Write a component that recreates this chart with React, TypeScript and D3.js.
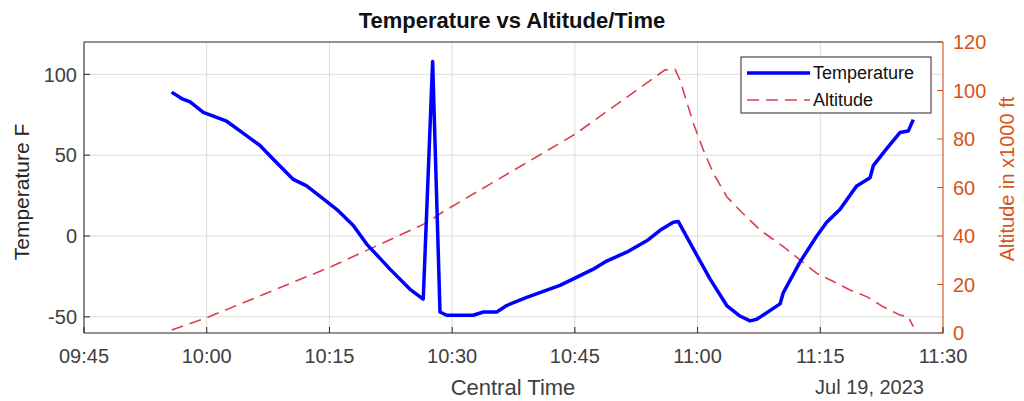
import { useEffect, useRef } from "react";
import * as d3 from "d3";

// temperature readings (time, deg F)
const tempTimes = [
  "09:55:43", "09:56:56", "09:57:58", "09:59:35", "10:02:26", "10:04:04", "10:06:31",
  "10:08:08", "10:10:35", "10:12:13", "10:14:15", "10:15:53", "10:17:55", "10:19:33",
  "10:21:35", "10:22:24", "10:24:51", "10:26:28", "10:27:37", "10:28:31", "10:29:20",
  "10:32:35", "10:33:49", "10:35:27", "10:36:40", "10:39:07", "10:43:11", "10:44:49",
  "10:47:15", "10:48:53", "10:51:20", "10:53:47", "10:55:25", "10:57:02", "10:57:38",
  "10:59:29", "11:01:31", "11:03:34", "11:05:11", "11:06:25", "11:07:14", "11:10:05",
  "11:10:29", "11:12:32", "11:14:34", "11:15:47", "11:17:25", "11:19:27", "11:21:05",
  "11:21:29", "11:23:07", "11:24:44", "11:25:46", "11:26:22",
];
const tempValues = [
  89, 85, 83, 76.5, 71, 65, 56,
  47.5, 35, 31, 23, 16.5, 6.5, -5,
  -16, -20.5, -33, -39, 108, -47, -49,
  -49, -47, -47, -43, -38, -30.5, -26.5,
  -20.5, -15.5, -10, -3, 3.5, 8.5, 9,
  -8, -26.5, -43, -49.5, -52.5, -51.5, -42,
  -35, -16, 0, 8.5, 16.5, 31, 36,
  43.5, 54, 64, 65, 72,
];

// altitude readings (time, x1000 ft)
const altTimes = [
  "09:55:43", "10:00:17", "10:15:11", "10:26:56", "10:28:53", "10:45:02", "10:56:01",
  "10:57:15", "10:57:51", "10:59:29", "11:00:42", "11:01:55", "11:03:34", "11:05:11",
  "11:07:38", "11:10:29", "11:12:32", "11:14:34", "11:16:36", "11:18:38", "11:20:40",
  "11:22:42", "11:24:44", "11:25:45", "11:26:22",
];
const altValues = [
  1.2, 6.7, 27.3, 45.5, 50, 82, 108.5,
  108.7, 104.3, 86.5, 75.5, 66, 56.2, 50.5,
  42.5, 35.6, 30.1, 24.6, 21.2, 17.7, 15,
  10.8, 7.4, 6.7, 2.6,
];

const tempTicks = [-50, 0, 50, 100];
const altTicks = [0, 20, 40, 60, 80, 100, 120];
const timeTicks = ["09:45", "10:00", "10:15", "10:30", "10:45", "11:00", "11:15", "11:30"];

const FONT = "'Liberation Sans', Arial, Helvetica, sans-serif";
const ORANGE = "#D95319";

export default function App() {
  const ref = useRef<SVGSVGElement>(null);

  useEffect(() => {
    const width = 1024;
    const height = 401;
    const left = 84, right = 943, top = 42, bottom = 333;
    const svg = d3.select(ref.current);
    svg.selectAll("*").remove();
    svg.attr("viewBox", [0, 0, width, height]);

    const parseT = d3.timeParse("%H:%M:%S");
    const parseM = d3.timeParse("%H:%M");
    const fmt = d3.timeFormat("%H:%M");

    const x = d3
      .scaleTime()
      .domain([parseM("09:45")!, parseM("11:30")!])
      .range([left, right]);
    const yT = d3.scaleLinear().domain([-60, 120]).range([bottom, top]);
    const yA = d3.scaleLinear().domain([0, 120]).range([bottom, top]);

    svg.append("rect").attr("width", width).attr("height", height).attr("fill", "white");

    // grid
    const grid = svg.append("g").attr("stroke", "#dcdcdc").attr("stroke-width", 1);
    grid
      .selectAll("line.v")
      .data(timeTicks.map((t) => parseM(t)!))
      .join("line")
      .attr("x1", (d) => x(d))
      .attr("x2", (d) => x(d))
      .attr("y1", top)
      .attr("y2", bottom);
    grid
      .selectAll("line.h")
      .data(tempTicks)
      .join("line")
      .attr("class", "h")
      .attr("x1", left)
      .attr("x2", right)
      .attr("y1", (d) => yT(d))
      .attr("y2", (d) => yT(d));

    const tempData = tempTimes.map((t, i) => ({ t: parseT(t)!, v: tempValues[i] }));
    const altData = altTimes.map((t, i) => ({ t: parseT(t)!, v: altValues[i] }));

    svg
      .append("path")
      .datum(altData)
      .attr("fill", "none")
      .attr("stroke", "#dd3f4a")
      .attr("stroke-width", 1.6)
      .attr("stroke-dasharray", "12,7")
      .attr(
        "d",
        d3
          .line<{ t: Date; v: number }>()
          .x((d) => x(d.t))
          .y((d) => yA(d.v))
      );

    svg
      .append("path")
      .datum(tempData)
      .attr("fill", "none")
      .attr("stroke", "#0000ff")
      .attr("stroke-width", 3.5)
      .attr("stroke-linejoin", "round")
      .attr(
        "d",
        d3
          .line<{ t: Date; v: number }>()
          .x((d) => x(d.t))
          .y((d) => yT(d.v))
      );

    // axes box
    const ax = svg.append("g").attr("stroke-width", 1).attr("fill", "none");
    ax.append("line").attr("x1", left).attr("x2", right).attr("y1", top).attr("y2", top).attr("stroke", "#262626");
    ax.append("line").attr("x1", left).attr("x2", right).attr("y1", bottom).attr("y2", bottom).attr("stroke", "#262626");
    ax.append("line").attr("x1", left).attr("x2", left).attr("y1", top).attr("y2", bottom).attr("stroke", "#262626");
    ax.append("line").attr("x1", right).attr("x2", right).attr("y1", top).attr("y2", bottom + 0.5).attr("stroke", ORANGE);

    const txt = svg.append("g").attr("font-family", FONT);

    // x ticks
    timeTicks.forEach((t) => {
      const px = x(parseM(t)!);
      ax.append("line").attr("x1", px).attr("x2", px).attr("y1", bottom).attr("y2", bottom - 6).attr("stroke", "#262626");
      txt
        .append("text")
        .attr("x", px)
        .attr("y", 363)
        .attr("text-anchor", "middle")
        .attr("font-size", 20)
        .attr("fill", "#404040")
        .text(fmt(parseM(t)!));
    });

    // left ticks
    tempTicks.forEach((v) => {
      ax.append("line").attr("x1", left).attr("x2", left + 6).attr("y1", yT(v)).attr("y2", yT(v)).attr("stroke", "#262626");
      txt
        .append("text")
        .attr("x", 77)
        .attr("y", yT(v))
        .attr("dy", "0.36em")
        .attr("text-anchor", "end")
        .attr("font-size", 20)
        .attr("fill", "#404040")
        .text(v);
    });

    // right ticks
    altTicks.forEach((v) => {
      ax.append("line").attr("x1", right).attr("x2", right - 6).attr("y1", yA(v)).attr("y2", yA(v)).attr("stroke", ORANGE);
      txt
        .append("text")
        .attr("x", 953)
        .attr("y", yA(v))
        .attr("dy", "0.36em")
        .attr("font-size", 20)
        .attr("fill", ORANGE)
        .text(v);
    });

    // titles and labels
    txt
      .append("text")
      .attr("x", 512)
      .attr("y", 28)
      .attr("text-anchor", "middle")
      .attr("font-size", 22)
      .attr("font-weight", "bold")
      .attr("fill", "#111")
      .text("Temperature vs Altitude/Time");
    txt
      .append("text")
      .attr("x", 513)
      .attr("y", 395)
      .attr("text-anchor", "middle")
      .attr("font-size", 22)
      .attr("fill", "#404040")
      .text("Central Time");
    txt
      .append("text")
      .attr("x", 924)
      .attr("y", 394)
      .attr("text-anchor", "end")
      .attr("font-size", 20)
      .attr("fill", "#404040")
      .text("Jul 19, 2023");
    txt
      .append("text")
      .attr("transform", "translate(29,192) rotate(-90)")
      .attr("text-anchor", "middle")
      .attr("font-size", 21)
      .attr("fill", "#262626")
      .text("Temperature F");
    txt
      .append("text")
      .attr("transform", "translate(1014,179) rotate(-90)")
      .attr("text-anchor", "middle")
      .attr("font-size", 20)
      .attr("fill", ORANGE)
      .text("Altitude in x1000 ft");

    // legend
    const lg = svg.append("g");
    lg.append("rect")
      .attr("x", 741)
      .attr("y", 57)
      .attr("width", 190)
      .attr("height", 56)
      .attr("fill", "white")
      .attr("stroke", "#262626")
      .attr("stroke-width", 1);
    lg.append("line").attr("x1", 747).attr("x2", 810).attr("y1", 73).attr("y2", 73).attr("stroke", "#0000ff").attr("stroke-width", 3.5);
    lg.append("line")
      .attr("x1", 747)
      .attr("x2", 810)
      .attr("y1", 100)
      .attr("y2", 100)
      .attr("stroke", "#dd3f4a")
      .attr("stroke-width", 1.6)
      .attr("stroke-dasharray", "12,7");
    lg.append("text").attr("x", 813).attr("y", 73).attr("dy", "0.36em").attr("font-family", FONT).attr("font-size", 18).attr("fill", "#111").text("Temperature");
    lg.append("text").attr("x", 813).attr("y", 100).attr("dy", "0.36em").attr("font-family", FONT).attr("font-size", 18).attr("fill", "#111").text("Altitude");
  }, []);

  return (
    <svg
      ref={ref}
      width={1024}
      height={401}
      style={{ position: "absolute", left: 0, top: 0 }}
    />
  );
}
